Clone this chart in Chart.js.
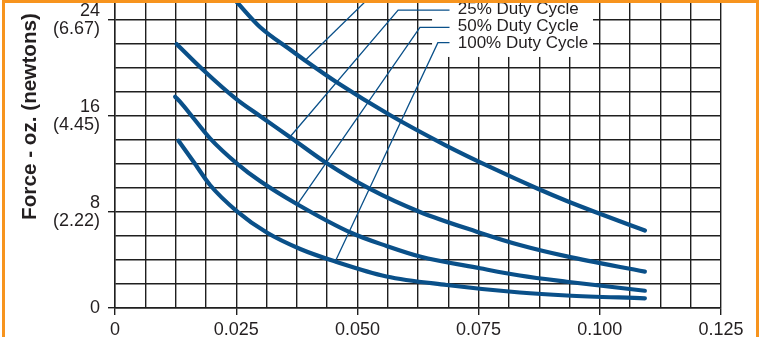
<!DOCTYPE html>
<html>
<head>
<meta charset="utf-8">
<title>Force vs stroke</title>
<script src="https://cdn.jsdelivr.net/npm/chart.js@4.4.1/dist/chart.umd.min.js"></script>
<style>
    html, body { margin: 0; padding: 0; background: #fff; }
    #wrap { width: 760px; height: 337px; overflow: hidden; }
</style>
</head>
<body>
<div id="wrap"><canvas id="myChart" width="760" height="337"></canvas></div>
<script>
// values: stroke (in.) vs force (oz.)
const xTickLabels = ["0", "0.025", "0.050", "0.075", "0.100", "0.125"];
const yTickOz = ["0", "8", "16", "24"];
const yTickNewtons = ["", "(2.22)", "(4.45)", "(6.67)"];
const dutyLabels = ["25% Duty Cycle", "50% Duty Cycle", "100% Duty Cycle"];

// top curve (its label is cut off above the picture)
const strokeTop = [0.0249, 0.0299, 0.0361, 0.0392, 0.0458, 0.0567, 0.0681, 0.0780, 0.0871, 0.0932, 0.0996, 0.1093];
const forceTop = [25.6, 23.42, 21.54, 20.63, 18.79, 16.08, 13.58, 11.63, 9.96, 8.92, 7.92, 6.46];

const stroke25 = [0.0127, 0.0182, 0.0251, 0.0299, 0.0365, 0.0433, 0.0526, 0.0629, 0.0746, 0.0835, 0.0932, 0.1093];
const force25 = [22.0, 19.83, 17.38, 16.0, 14.12, 12.17, 9.92, 8.0, 6.36, 5.25, 4.3, 3.03];

const stroke50 = [0.0124, 0.0134, 0.0162, 0.0196, 0.0251, 0.0299, 0.0375, 0.0488, 0.0560, 0.0629, 0.0753, 0.0835, 0.0932, 0.1093];
const force50 = [17.61, 17.19, 15.81, 14.14, 12.06, 10.58, 8.67, 6.25, 5.17, 4.29, 3.31, 2.71, 2.19, 1.44];

const stroke100 = [0.0131, 0.0162, 0.0196, 0.0251, 0.0313, 0.0382, 0.0454, 0.0560, 0.0684, 0.0835, 0.0932, 0.1093];
const force100 = [13.94, 12.19, 10.25, 8.08, 6.29, 4.92, 3.88, 2.63, 1.92, 1.29, 1.04, 0.81];

// leader lines from the labels to the curves
const leaderTopX = [0.0392, 0.0561];
const leaderTopY = [20.63, 27.3];
const leader25X = [0.0359, 0.0584, 0.0690];
const leader25Y = [14.17, 24.83, 24.83];
const leader50X = [0.0378, 0.0629, 0.0690];
const leader50Y = [8.73, 23.38, 23.38];
const leader100X = [0.0454, 0.0666, 0.0690];
const leader100Y = [3.86, 22.11, 22.11];

const FONT = '"Liberation Sans", Arial, Helvetica, sans-serif';
const INK = "#231f20";
const BLUE = "#0a5089";
const GRID = "#1f1f1f";

function toPoints(xs, ys) {
    return xs.map((x, i) => ({ x: x, y: ys[i] }));
}

function curve(label, xs, ys) {
    return {
        label: label,
        data: toPoints(xs, ys),
        showLine: true,
        borderColor: BLUE,
        borderWidth: 4.2,
        borderCapStyle: "round",
        cubicInterpolationMode: "monotone",
        pointRadius: 0,
        fill: false
    };
}

function leader(label, xs, ys) {
    return {
        label: label,
        data: toPoints(xs, ys),
        showLine: true,
        borderColor: BLUE,
        borderWidth: 1.3,
        tension: 0,
        pointRadius: 0,
        fill: false
    };
}

function isMajorX(v) {
    return Math.abs(v / 0.025 - Math.round(v / 0.025)) < 1e-6;
}

// white patch behind the labels, the labels, axis title and the orange frame
const annotations = {
    id: "annotations",
    beforeDatasetsDraw(chart) {
        const { ctx, scales: { x, y } } = chart;
        const left = x.getPixelForValue(0.0654);
        const right = x.getPixelForValue(0.0986);
        const bottom = y.getPixelForValue(20.92);
        ctx.save();
        ctx.fillStyle = "#ffffff";
        ctx.fillRect(left, 0, right - left, bottom);
        ctx.restore();
    },
    afterDatasetsDraw(chart) {
        const { ctx, scales: { x, y } } = chart;
        const labelY = [24.92, 23.5, 22.12];
        ctx.save();
        ctx.fillStyle = INK;
        ctx.font = "17px " + FONT;
        ctx.textAlign = "left";
        ctx.textBaseline = "middle";
        dutyLabels.forEach((t, i) => {
            ctx.fillText(t, x.getPixelForValue(0.0707), y.getPixelForValue(labelY[i]) + 0.5);
        });
        ctx.restore();
    },
    afterDraw(chart) {
        const ctx = chart.ctx;
        ctx.save();
        ctx.translate(36, 116.5);
        ctx.rotate(-Math.PI / 2);
        ctx.fillStyle = INK;
        ctx.font = "bold 20.7px " + FONT;
        ctx.textAlign = "center";
        ctx.textBaseline = "alphabetic";
        ctx.fillText("Force - oz. (newtons)", 0, 0);
        ctx.restore();

        ctx.save();
        ctx.strokeStyle = "#f7941e";
        ctx.lineWidth = 3;
        ctx.strokeRect(3.5, 1.5, 754, 400);
        ctx.restore();
    }
};

const ctx = document.getElementById("myChart").getContext("2d");
new Chart(ctx, {
    type: "scatter",
    data: {
        datasets: [
            curve("top curve", strokeTop, forceTop),
            curve(dutyLabels[0], stroke25, force25),
            curve(dutyLabels[1], stroke50, force50),
            curve(dutyLabels[2], stroke100, force100),
            leader("leader top", leaderTopX, leaderTopY),
            leader("leader 25", leader25X, leader25Y),
            leader("leader 50", leader50X, leader50Y),
            leader("leader 100", leader100X, leader100Y)
        ]
    },
    options: {
        responsive: false,
        animation: false,
        devicePixelRatio: 1,
        layout: { padding: { top: 2, right: 39, bottom: 0, left: 0 } },
        plugins: {
            legend: { display: false },
            tooltip: { enabled: false }
        },
        scales: {
            x: {
                type: "linear",
                min: 0,
                max: 0.125,
                afterFit(s) { s.height = 29; s.paddingLeft = 0; s.paddingRight = 0; },
                ticks: {
                    stepSize: 0.00625,
                    autoSkip: false,
                    maxRotation: 0,
                    includeBounds: false,
                    padding: 4,
                    color: INK,
                    font: { family: FONT, size: 18, lineHeight: 1.2 },
                    callback: function (value) {
                        return isMajorX(value) ? xTickLabels[Math.round(value / 0.025)] : "";
                    }
                },
                grid: {
                    color: GRID,
                    lineWidth: 1.4,
                    tickLength: 7,
                    tickColor: (c) => (c.tick && isMajorX(c.tick.value) ? GRID : "rgba(0,0,0,0)")
                },
                border: { display: true, color: GRID, width: 1.4 }
            },
            y: {
                type: "linear",
                min: 0,
                max: 25.5,
                afterFit(s) { s.width = 115; s.paddingTop = 0; s.paddingBottom = 0; },
                ticks: {
                    stepSize: 2,
                    autoSkip: false,
                    includeBounds: false,
                    padding: 8,
                    color: INK,
                    font: { family: FONT, size: 18, lineHeight: 1.04 },
                    callback: function (value) {
                        if (value % 8 !== 0) return "";
                        const i = value / 8;
                        return yTickNewtons[i] ? [yTickOz[i], yTickNewtons[i]] : yTickOz[i];
                    }
                },
                grid: {
                    color: GRID,
                    lineWidth: 1.4,
                    tickLength: 7,
                    tickColor: (c) => (c.tick && c.tick.value % 8 === 0 ? GRID : "rgba(0,0,0,0)")
                },
                border: { display: true, color: GRID, width: 1.4 }
            }
        }
    },
    plugins: [annotations]
});
</script>
</body>
</html>
